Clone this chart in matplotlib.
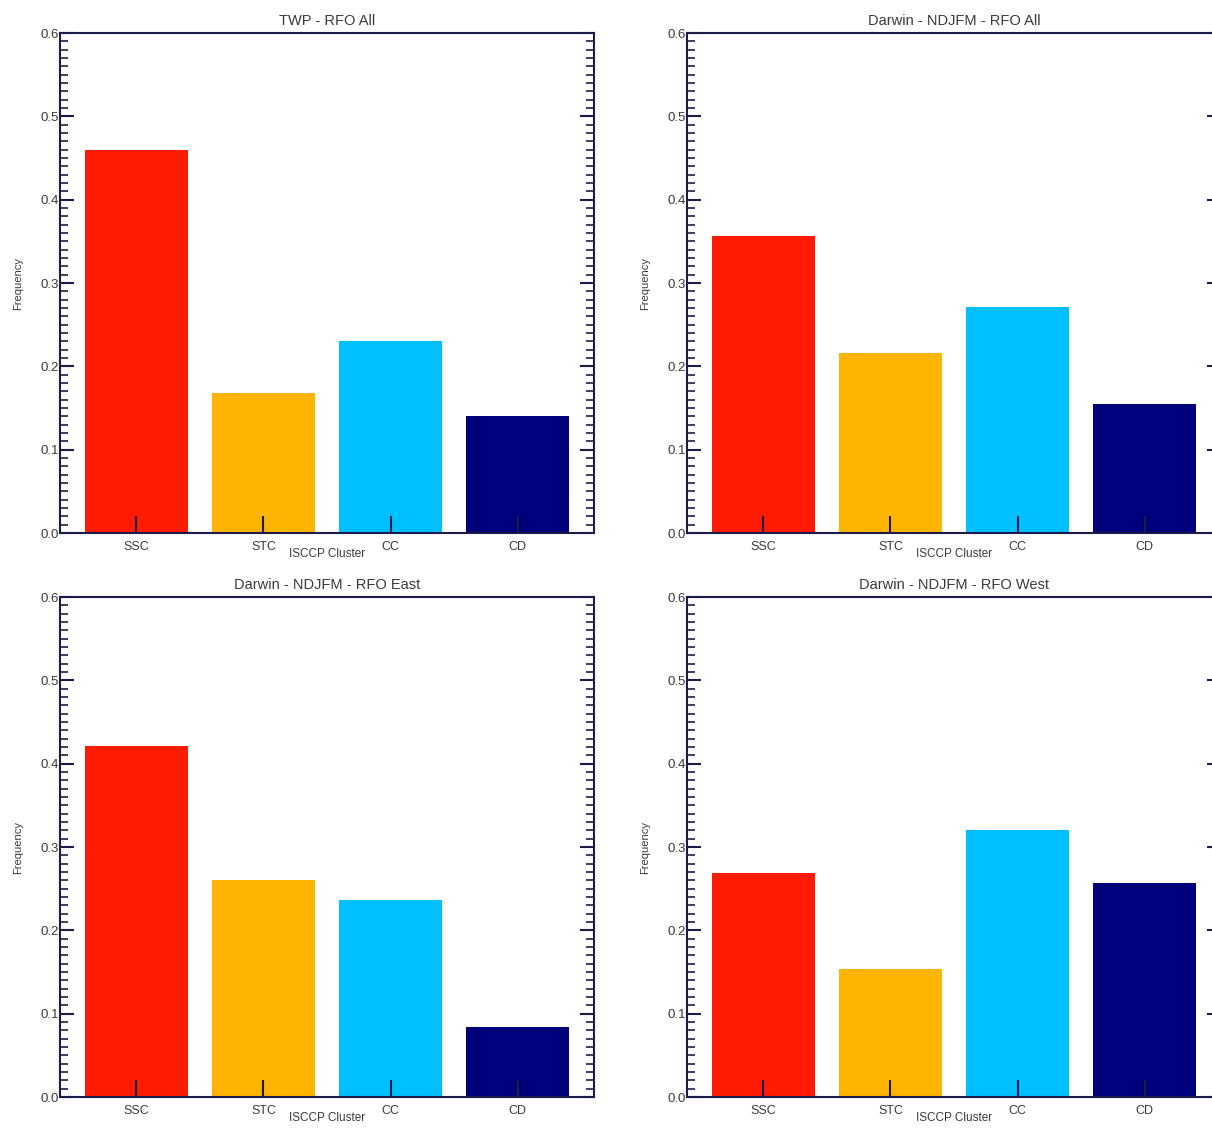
import numpy as np
import matplotlib.pyplot as plt
from matplotlib.ticker import MultipleLocator

plt.rcParams['font.family'] = ['Liberation Sans', 'DejaVu Sans']

clusters = ['SSC', 'STC', 'CC', 'CD']
colors = ['#ff1a00', '#ffb400', '#00bfff', '#00007a']

titles = ['TWP - RFO All', 'Darwin - NDJFM - RFO All',
          'Darwin - NDJFM - RFO East', 'Darwin - NDJFM - RFO West']
twp_all = [0.460, 0.168, 0.230, 0.140]
darwin_all = [0.357, 0.216, 0.271, 0.155]
darwin_east = [0.421, 0.260, 0.236, 0.084]
darwin_west = [0.269, 0.154, 0.320, 0.257]
panels = [twp_all, darwin_all, darwin_east, darwin_west]

W, H = 1212, 1129
fig = plt.figure(figsize=(W / 100, H / 100), dpi=100)

# axes boxes in pixels: (left, top, right, bottom); right column runs off the page
boxes = [(60, 33, 594, 533), (687, 33, 1221, 533),
         (60, 597, 594, 1097), (687, 597, 1221, 1097)]
spine_col = '#1c1c4a'
text_col = '#3a3a3a'

x = np.arange(1, len(clusters) + 1)
for box, title, vals in zip(boxes, titles, panels):
    l, t, r, b = box
    ax = fig.add_axes([l / W, 1 - b / H, (r - l) / W, (b - t) / H])
    ax.bar(x, vals, width=0.81, color=colors)
    ax.set_xlim(0.4, 4.6)
    ax.set_ylim(0, 0.6)
    ax.yaxis.set_minor_locator(MultipleLocator(0.01))
    ax.set_yticks(np.arange(0, 0.61, 0.1))
    ax.set_yticklabels(['%.1f' % v for v in np.arange(0, 0.61, 0.1)])
    ax.set_xticks(x)
    ax.set_xticklabels(clusters)
    ax.tick_params(axis='y', which='major', direction='in', length=10, width=1.5,
                   left=True, right=True, colors=spine_col, labelcolor=text_col,
                   labelsize=9.5, pad=1)
    ax.tick_params(axis='y', which='minor', direction='in', length=6, width=1.2,
                   left=True, right=True, colors=spine_col)
    ax.tick_params(axis='x', which='major', direction='in', length=12, width=1.5,
                   colors=spine_col, labelcolor=text_col, labelsize=9, pad=6)
    for s in ax.spines.values():
        s.set_color(spine_col)
        s.set_linewidth(1.5)
    ax.set_title(title, fontsize=10.5, color=text_col, pad=6)
    ax.set_xlabel('ISCCP Cluster', fontsize=8.5, color=text_col, labelpad=-4)
    ax.set_ylabel('Frequency', fontsize=8, color=text_col, labelpad=12)

fig.savefig('out.png', dpi=100)
